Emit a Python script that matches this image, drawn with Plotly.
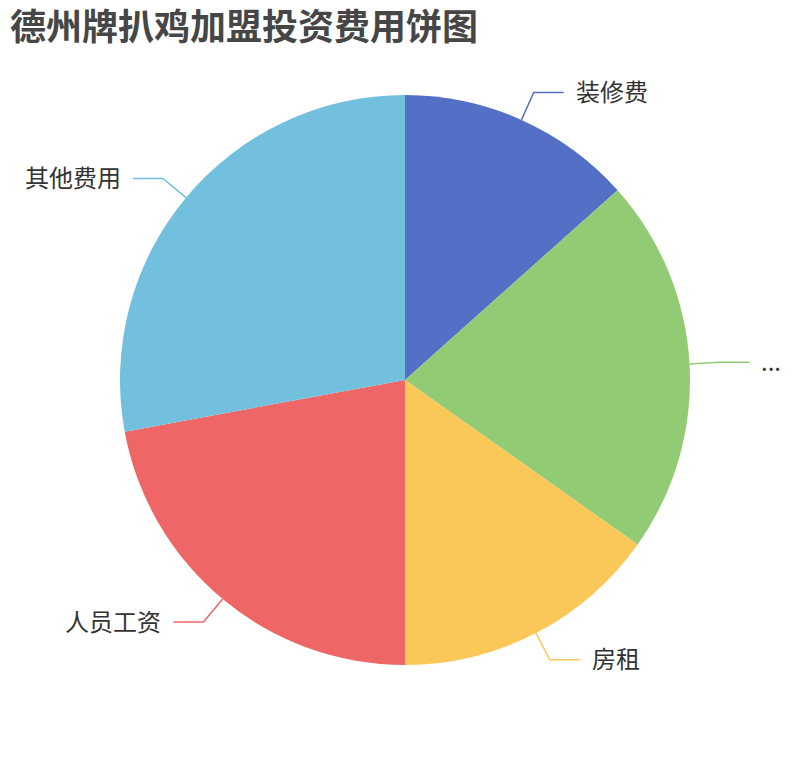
import math
import plotly.graph_objects as go

# data (shares, clockwise from 12 o'clock)
labels = ["装修费", "...", "房租", "人员工资", "其他费用"]
values = [13.4, 21.4, 15.2, 22.1, 27.9]
colors = ["#5470c6", "#91cc75", "#fac858", "#ee6666", "#73c0de"]

W, H = 810, 760
OFF = 8                      # page body margin in the browser
cx, cy, R = 405 - OFF, 380 - OFF, 285   # pie centre / radius in pixels
len1, len2 = 30, 30          # label line segments

fig = go.Figure()
fig.add_trace(go.Pie(
    labels=labels, values=values, sort=False, direction="clockwise", rotation=0,
    marker=dict(colors=colors, line=dict(width=0)),
    textinfo="none", hoverinfo="label+value+percent", showlegend=False,
    domain=dict(x=[(cx - R) / W, (cx + R) / W], y=[(H - cy - R) / H, (H - cy + R) / H]),
))

def px(x, y):
    return x / W, 1 - y / H

total = sum(values)
acc = 0
shapes, annots = [], []
for lab, v, c in zip(labels, values, colors):
    mid = (acc + v / 2) / total * 2 * math.pi
    acc += v
    sx, sy = math.sin(mid), -math.cos(mid)
    x0, y0 = cx + R * sx, cy + R * sy
    x1, y1 = cx + (R + len1) * sx, cy + (R + len1) * sy
    side = 1 if sx >= 0 else -1
    x2 = x1 + side * len2
    path = "M {} {} L {} {} L {} {}".format(*px(x0, y0), *px(x1, y1), *px(x2, y1))
    shapes.append(dict(type="path", path=path, xref="paper", yref="paper",
                       line=dict(color=c, width=1.5)))
    tx, ty = px(x2 + side * 10, y1 - 2)
    annots.append(dict(text=lab, x=tx, y=ty, xref="paper", yref="paper", showarrow=False,
                       xanchor="left" if side > 0 else "right", yanchor="middle",
                       font=dict(size=24, color="#333333")))

fig.update_layout(
    width=W, height=H, margin=dict(l=0, r=0, t=0, b=0),
    paper_bgcolor="white", plot_bgcolor="white",
    font=dict(family="Noto Sans CJK SC, sans-serif"),
    title=dict(text="<b>德州牌扒鸡加盟投资费用饼图</b>", x=(10 - OFF) / W, xanchor="left",
               y=1 - (27 - OFF) / H, yanchor="middle",
               font=dict(size=36, color="#464646", family="Noto Sans CJK SC")),
    shapes=shapes, annotations=annots,
)

fig.write_html("out.html")
